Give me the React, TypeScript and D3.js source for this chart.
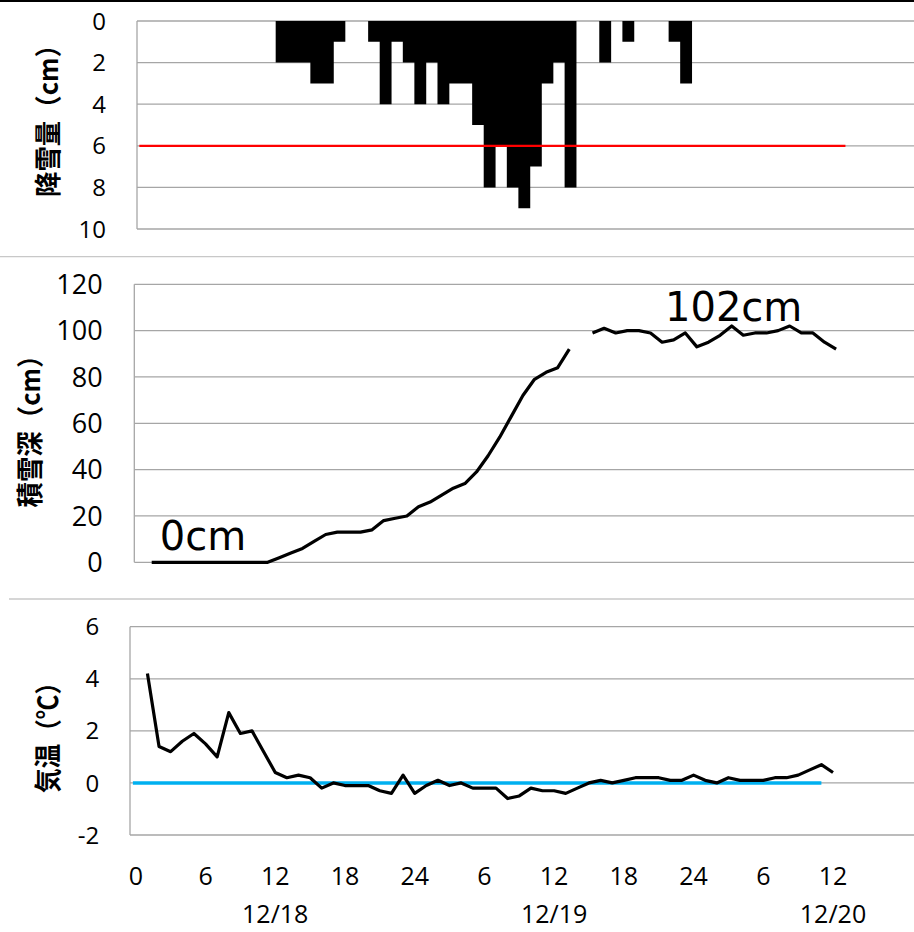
import React from 'react';
import * as d3 from 'd3';

// hourly categories: 0 = 12/18 0:00
const snowfallHours = [12, 13, 14, 15, 16, 17, 20, 21, 22, 23, 24, 25, 26, 27, 28, 29, 30, 31, 32, 33, 34, 35, 36, 37, 40, 42, 46, 47];
const snowfallCm = [2, 2, 2, 3, 3, 1, 1, 4, 1, 2, 4, 2, 4, 3, 3, 5, 8, 6, 8, 9, 7, 3, 2, 8, 2, 1, 1, 3];
const snowfallThreshold = 6;

const depthHours = d3.range(1, 61);
const depthCm = [
  0, 0, 0, 0, 0, 0, 0, 0, 0, 0, 0,
  2, 4, 6, 9, 12, 13, 13, 13, 14, 18, 19, 20, 24, 26, 29, 32, 34, 39, 46,
  54, 63, 72, 79, 82, 84, 92, null, 99, 101, 99, 100, 100, 99, 95, 96, 99, 93,
  95, 98, 102, 98, 99, 99, 100, 102, 99, 99, 95, 92,
];

const tempHours = d3.range(1, 61);
const tempC = [
  4.2, 1.4, 1.2, 1.6, 1.9, 1.5, 1.0, 2.7, 1.9, 2.0, 1.2, 0.4, 0.2, 0.3, 0.2,
  -0.2, 0.0, -0.1, -0.1, -0.1, -0.3, -0.4, 0.3, -0.4, -0.1, 0.1, -0.1, 0.0, -0.2, -0.2,
  -0.2, -0.6, -0.5, -0.2, -0.3, -0.3, -0.4, -0.2, 0.0, 0.1, 0.0, 0.1, 0.2, 0.2, 0.2,
  0.1, 0.1, 0.3, 0.1, 0.0, 0.2, 0.1, 0.1, 0.1, 0.2, 0.2, 0.3, 0.5, 0.7, 0.4,
];

const xTickHours = [0, 6, 12, 18, 24, 30, 36, 42, 48, 54, 60];
const xTickLabels = ['0', '6', '12', '18', '24', '6', '12', '18', '24', '6', '12'];
const dateHours = [12, 36, 60];
const dateLabels = ['12/18', '12/19', '12/20'];

const W = 914;
const H = 932;
const GRID = '#a6a6a6';
const TICK_FONT = "'Open Sans', 'Noto Sans', sans-serif";
const CJK_FONT = "'Noto Sans CJK JP', sans-serif";

export default function App() {
  // top panel: snowfall (inverted axis)
  const x1 = d3.scaleLinear().domain([0, 1]).range([137, 137 + 11.557]);
  const y1 = d3.scaleLinear().domain([0, 10]).range([21, 229]);
  // middle panel: snow depth
  const x2 = d3.scaleLinear().domain([0, 1]).range([134.3, 134.3 + 11.6]);
  const y2 = d3.scaleLinear().domain([0, 120]).range([562.3, 284.3]);
  // bottom panel: temperature
  const x3 = d3.scaleLinear().domain([0, 1]).range([130, 130 + 11.62]);
  const y3 = d3.scaleLinear().domain([-2, 6]).range([835, 626.7]);

  const depthLine = d3
    .line<[number, number | null]>()
    .defined((d) => d[1] !== null)
    .x((d) => x2(d[0] + 0.5))
    .y((d) => y2(d[1] as number));
  const tempLine = d3
    .line<[number, number]>()
    .x((d) => x3(d[0] + 0.5))
    .y((d) => y3(d[1]));

  // all bars in one path so neighbouring columns join without seams
  const barPath = d3.path();
  snowfallHours.forEach((h, i) => {
    barPath.rect(x1(h), y1(0), x1(h + 1) - x1(h) + 0.3, y1(snowfallCm[i]) - y1(0));
  });

  const grid = (ticks: number[], y: d3.ScaleLinear<number, number>, x0: number) =>
    ticks.map((t) => (
      <line key={t} x1={x0} x2={W} y1={y(t)} y2={y(t)} stroke={GRID} strokeWidth={1.3} />
    ));

  const yLabels = (ticks: number[], y: d3.ScaleLinear<number, number>, xr: number, size: number) =>
    ticks.map((t) => (
      <text key={t} x={xr} y={y(t)} dy="0.36em" textAnchor="end" fontSize={size} fontFamily={TICK_FONT} fill="#000">
        {t}
      </text>
    ));

  const title = (label: string, cx: number, cy: number, len: number) => (
    <text
      transform={`translate(${cx},${cy}) rotate(-90)`}
      x={-len / 2}
      dy="0.36em"
      fontSize={27}
      fontWeight={700}
      fontFamily={CJK_FONT}
      textLength={len}
      lengthAdjust="spacingAndGlyphs"
    >
      {label}
    </text>
  );

  return (
    <div style={{ position: 'absolute', left: 0, top: 0 }}>
      <svg width={W} height={H} style={{ display: 'block', background: '#fff' }}>
        {/* chart frames */}
        <line x1={0} x2={W} y1={1} y2={1} stroke="#000" strokeWidth={2} />
        <line x1={0} x2={W} y1={256.7} y2={256.7} stroke="#c8c8c8" strokeWidth={1.3} />
        <line x1={9} x2={W} y1={599} y2={599} stroke="#c8c8c8" strokeWidth={1.3} />

        {/* ---- snowfall ---- */}
        {grid(d3.range(0, 11, 2), y1, x1(0))}
        <line x1={x1(0)} x2={x1(0)} y1={y1(0)} y2={y1(10)} stroke={GRID} strokeWidth={1.3} />
        <path d={barPath.toString()} fill="#000" />
        <line
          x1={x1(0.2)}
          x2={x1(61.3)}
          y1={y1(snowfallThreshold)}
          y2={y1(snowfallThreshold)}
          stroke="#ff0000"
          strokeWidth={2.2}
        />
        {yLabels(d3.range(0, 11, 2), y1, 106, 24)}
        {title('降雪量（cm）', 48, 114.5, 165)}

        {/* ---- snow depth ---- */}
        {grid(d3.range(0, 121, 20), y2, x2(0))}
        <line x1={x2(0)} x2={x2(0)} y1={y2(0)} y2={y2(120)} stroke={GRID} strokeWidth={1.3} />
        <path
          d={depthLine(depthHours.map((h, i) => [h, depthCm[i]] as [number, number | null])) || ''}
          fill="none"
          stroke="#000"
          strokeWidth={3.2}
          strokeLinejoin="round"
        />
        {yLabels(d3.range(0, 121, 20), y2, 102.7, 27)}
        <text x={x2(2.2)} y={y2(5.3)} fontSize={40} fontFamily="'DejaVu Sans', sans-serif">
          0cm
        </text>
        <text x={x2(45.75)} y={y2(104.2)} fontSize={40} fontFamily="'DejaVu Sans', sans-serif">
          102cm
        </text>
        {title('積雪深（cm）', 30, 425, 165)}

        {/* ---- temperature ---- */}
        {grid(d3.range(-2, 7, 2), y3, x3(0))}
        <line x1={x3(0)} x2={x3(0)} y1={y3(-2)} y2={y3(6)} stroke={GRID} strokeWidth={1.3} />
        <line x1={x3(0.25)} x2={x3(59.5)} y1={y3(0)} y2={y3(0)} stroke="#00b0f0" strokeWidth={3.6} />
        <path
          d={tempLine(tempHours.map((h, i) => [h, tempC[i]] as [number, number])) || ''}
          fill="none"
          stroke="#000"
          strokeWidth={3.2}
          strokeLinejoin="round"
        />
        {yLabels(d3.range(-2, 7, 2), y3, 99.3, 24)}
        {title('気温（℃）', 48, 731.5, 123)}

        {/* x axis */}
        {xTickHours.map((h, i) => (
          <text key={h} x={x3(h + 0.5)} y={885} textAnchor="middle" fontSize={25} fontFamily={TICK_FONT}>
            {xTickLabels[i]}
          </text>
        ))}
        {dateHours.map((h, i) => (
          <text key={h} x={x3(h + 0.5)} y={923} textAnchor="middle" fontSize={25} fontFamily={TICK_FONT}>
            {dateLabels[i]}
          </text>
        ))}
      </svg>
    </div>
  );
}
